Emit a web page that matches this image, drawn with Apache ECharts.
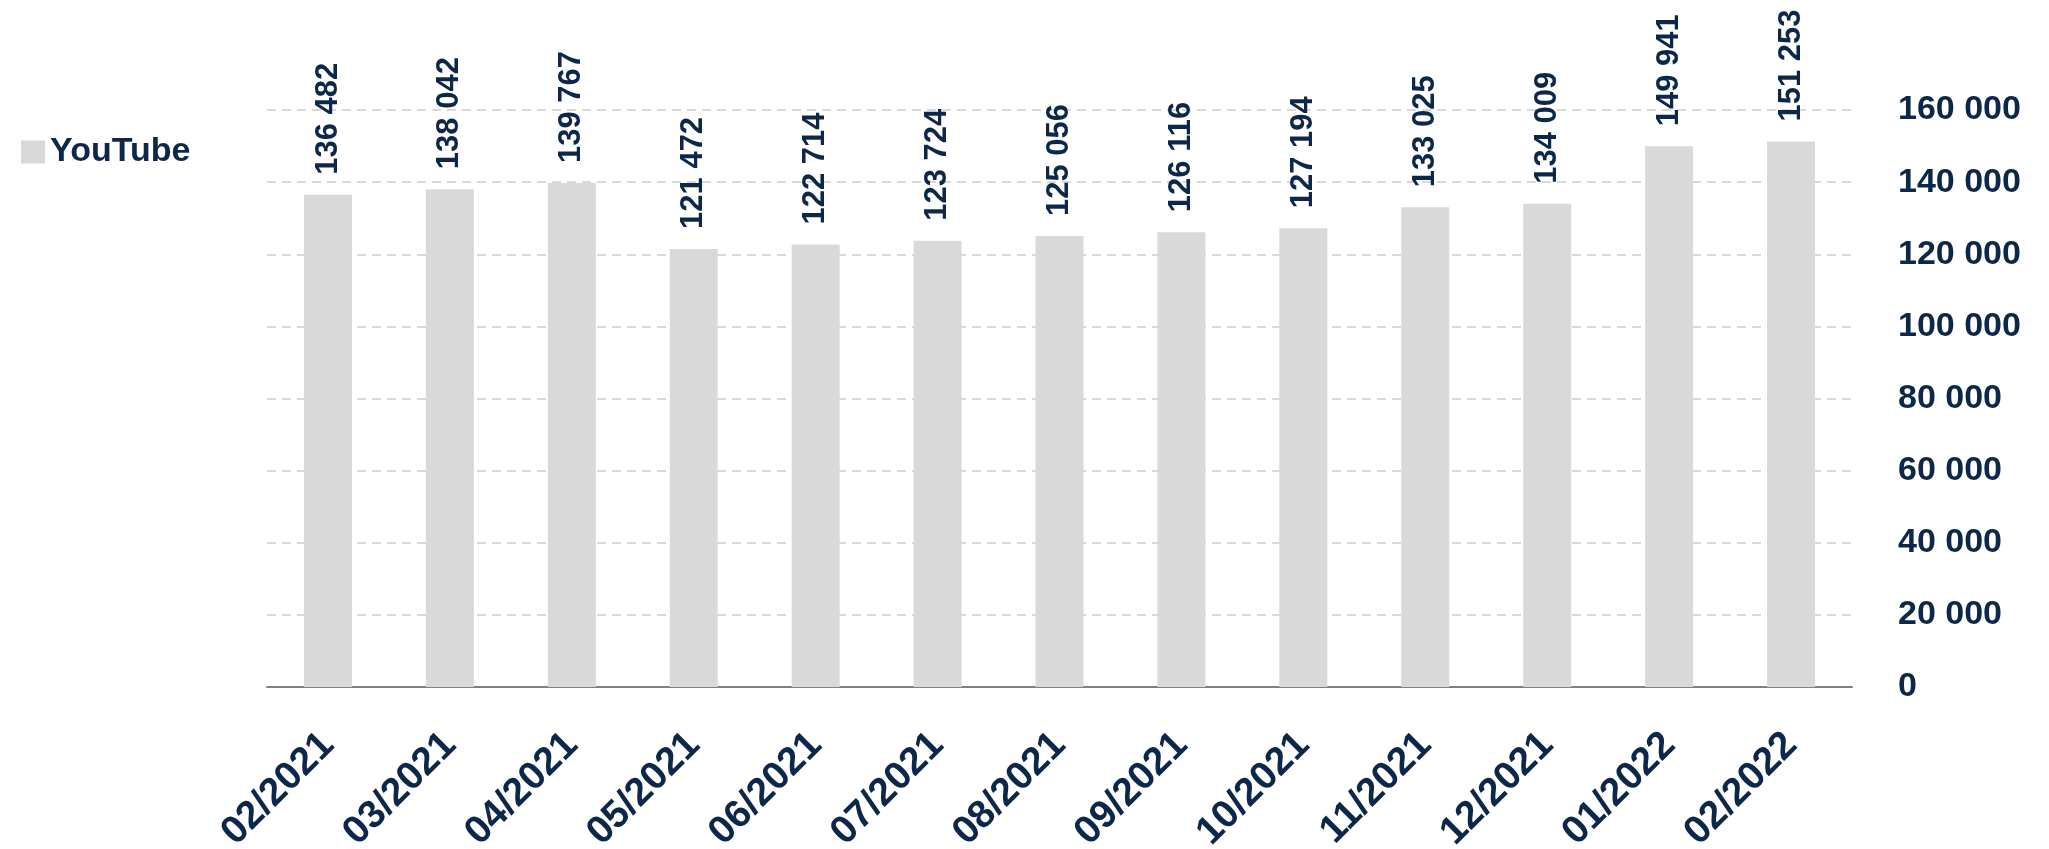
<!DOCTYPE html>
<html>
<head>
<meta charset="utf-8">
<title>YouTube</title>
<script src="https://cdn.jsdelivr.net/npm/echarts@6/dist/echarts.min.js"></script>
<style>
  html, body { margin: 0; padding: 0; background: #fff; }
  #chart { width: 2049px; height: 849px; }
</style>
</head>
<body>
<div id="chart"></div>
<script>
// months on the x axis
var months = ['02/2021', '03/2021', '04/2021', '05/2021', '06/2021', '07/2021', '08/2021',
  '09/2021', '10/2021', '11/2021', '12/2021', '01/2022', '02/2022'];
// YouTube values
var youtube = [136482, 138042, 139767, 121472, 122714, 123724, 125056,
  126116, 127194, 133025, 134009, 149941, 151253];
// y axis ticks
var yTicks = [0, 20000, 40000, 60000, 80000, 100000, 120000, 140000, 160000];

var navy = '#0c2749';

// 136482 -> "136 482"
function fmt(v) {
  return String(v).replace(/\B(?=(\d{3})+(?!\d))/g, ' ');
}

var chart = echarts.init(document.getElementById('chart'));

chart.setOption({
  animation: false,
  textStyle: { fontFamily: 'Liberation Sans, Arial, sans-serif', fontWeight: 'bold' },
  legend: {
    left: 16,
    top: 130,
    icon: 'rect',
    itemWidth: 24,
    itemHeight: 23,
    itemGap: 10,
    textStyle: { color: navy, fontSize: 34, fontWeight: 'bold' },
    data: ['YouTube']
  },
  grid: {
    left: 267,
    right: 197,
    top: 110,
    bottom: 162,
    containLabel: false,
    outerBoundsMode: 'none' // keep the grid where it is, labels may go near the edge
  },
  xAxis: {
    type: 'category',
    data: months,
    axisLine: { lineStyle: { color: '#808080', width: 2 } },
    axisTick: { show: false },
    axisLabel: {
      rotate: 45,
      margin: 52,
      color: navy,
      fontSize: 39,
      fontWeight: 'bold',
      interval: 0
    }
  },
  yAxis: {
    type: 'value',
    position: 'right',
    min: yTicks[0],
    max: yTicks[yTicks.length - 1],
    interval: 20000,
    axisLine: { show: false },
    axisTick: { show: false },
    axisLabel: {
      margin: 46,
      color: navy,
      fontSize: 34,
      fontWeight: 'bold',
      formatter: function (v) { return fmt(v); }
    },
    splitLine: {
      lineStyle: { color: '#d9d9d9', width: 2, type: [9, 6] }
    }
  },
  series: [{
    name: 'YouTube',
    type: 'bar',
    data: youtube,
    barWidth: 48,
    itemStyle: { color: '#d9d9d9' },
    label: {
      show: true,
      position: 'top',
      distance: 20,
      rotate: 90,
      align: 'left',
      verticalAlign: 'middle',
      color: navy,
      fontSize: 31,
      fontWeight: 'bold',
      formatter: function (p) { return fmt(p.value); }
    }
  }]
});
</script>
</body>
</html>
